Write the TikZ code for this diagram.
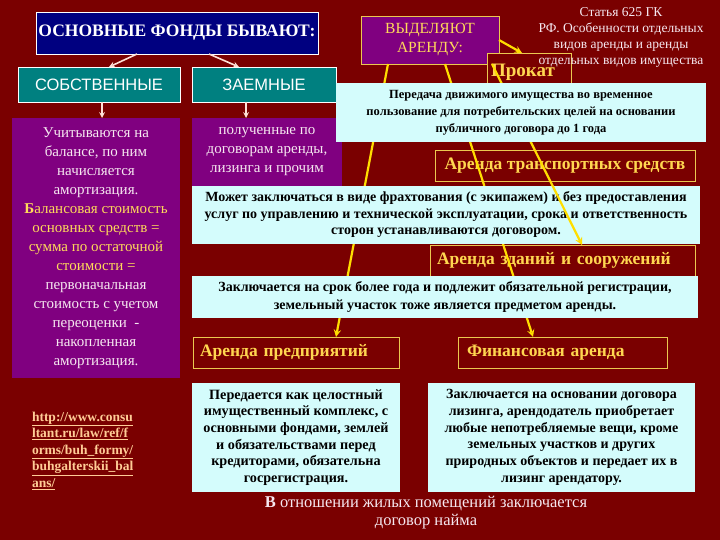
\documentclass[tikz,border=0pt]{standalone}
\usepackage{fontspec}
\setmainfont{Liberation Serif}
\setsansfont{Liberation Sans}
\usepackage{tikz}
\usetikzlibrary{arrows,shapes,positioning}
\usepackage{xcolor}
\definecolor{bgmaroon}{RGB}{122,0,0}
\definecolor{titlenavy}{RGB}{0,0,128}
\definecolor{fundteal}{RGB}{0,128,128}
\definecolor{notepurple}{RGB}{128,0,128}
\definecolor{notecyan}{RGB}{212,252,252}
\definecolor{framegold}{RGB}{235,200,80}
\definecolor{labelgold}{RGB}{255,215,80}
\definecolor{softyellow}{RGB}{255,218,90}
\definecolor{paletext}{RGB}{246,232,240}
\definecolor{pinkarrow}{RGB}{255,225,215}
\definecolor{lineyellow}{RGB}{255,222,0}
\definecolor{linkpeach}{RGB}{255,204,150}
\tikzstyle{plate} = [rectangle, anchor=north west, inner sep=0pt, outer sep=0pt, align=center]
\tikzstyle{fundbox} = [plate, draw=white, fill=fundteal, text=white, minimum height=35pt, font=\sffamily\fontsize{16.5}{19}\selectfont]
\tikzstyle{notebox} = [plate, fill=notepurple, text=paletext, font=\fontsize{15}{19}\selectfont]
\tikzstyle{rentbox} = [plate, draw=framegold, line width=0.8pt, fill=bgmaroon, text=labelgold, minimum height=31pt, font=\bfseries\fontsize{17.5}{20}\selectfont]
\tikzstyle{infobox} = [plate, fill=notecyan, text=black, font=\bfseries\fontsize{13}{17}\selectfont]
\tikzstyle{pinkarrow} = [line width=1.6pt, ->, >=stealth, color=pinkarrow]
\tikzstyle{yline} = [line width=2.2pt, ->, >=stealth, color=lineyellow]

\begin{document}
\begin{tikzpicture}[x=1pt, y=-1pt]
\useasboundingbox (0,0) rectangle (720,540);
\fill[bgmaroon] (0,0) rectangle (720,540);

% Fixed assets
\node[plate, draw=white, fill=titlenavy, text=white, minimum width=282pt, minimum height=42pt, font=\bfseries\fontsize{17.5}{20}\selectfont] (funds) at (36,12) {ОСНОВНЫЕ ФОНДЫ БЫВАЮТ:};
\node[fundbox, minimum width=162pt] (own) at (18,67) {СОБСТВЕННЫЕ};
\node[fundbox, minimum width=144pt] (borrowed) at (192,67) {ЗАЕМНЫЕ};

\node[notebox, minimum width=168pt, minimum height=260pt] (ownnote) at (12,118) {Учитываются на\\ балансе, по ним\\ начисляется\\ амортизация.\\ \textcolor{softyellow}{\textbf{Б}алансовая стоимость}\\ \textcolor{softyellow}{основных средств =}\\ \textcolor{softyellow}{сумма по остаточной}\\ \textcolor{softyellow}{стоимости =}\\ первоначальная\\ стоимость с учетом\\ переоценки \ -\\ накопленная\\ амортизация.};
\node[notebox, minimum width=150pt, minimum height=68pt] (borrownote) at (192,118) {полученные по\\ договорам аренды,\\ лизинга и прочим};

\draw[pinkarrow] ([xshift=101pt]funds.south west) -- ([xshift=10pt]own.north);
\draw[pinkarrow] ([xshift=173pt]funds.south west) -- ([xshift=-25pt]borrowed.north);
\draw[pinkarrow] ([xshift=3pt]own.south) -- ([xshift=3pt]own.south |- ownnote.north);
\draw[pinkarrow] ([xshift=-18pt]borrowed.south) -- ([xshift=-18pt]borrowed.south |- borrownote.north);

% Rent types
\node[plate, draw=framegold, line width=0.8pt, fill=notepurple, text=softyellow, minimum width=138pt, minimum height=48pt, font=\fontsize{15.5}{19}\selectfont] (rent) at (361,16) {ВЫДЕЛЯЮТ\\ АРЕНДУ:};
\node[rentbox, minimum width=81pt, minimum height=30pt, text width=76pt, text height=18pt, text depth=0pt, align=left, inner xsep=4pt, font=\bfseries\fontsize{19}{20}\selectfont] (hire) at (487,53) {Прокат};
\node[plate, text=paletext, anchor=north, font=\fontsize{13.5}{16}\selectfont] (article) at (621,8) {Статья 625 ГК\\ РФ. Особенности отдельных\\ видов аренды и аренды\\ отдельных видов имущества};

\node[rentbox, minimum width=260pt] (transport) at (435,150) {Аренда транспортных средств};
\node[rentbox, minimum width=265pt, text width=251pt, inner xsep=7pt, align=left] (building) at (430,245) {Аренда зданий и сооружений};
\node[rentbox, minimum width=206pt, text width=192pt, inner xsep=7pt, align=left] (enterprise) at (193,337) {Аренда предприятий};
\node[rentbox, minimum width=209pt, text width=191pt, inner xsep=9pt, align=left] (finance) at (458,337) {Финансовая аренда};

\draw[yline] (rent.east) -- ([xshift=35pt]hire.north west);
\draw[yline] ([xshift=27pt]rent.south west) -- ([xshift=143pt]enterprise.north west);
\draw[yline] ([xshift=84pt]rent.south west) -- ([xshift=75pt]finance.north west);

\node[infobox, minimum width=508pt, minimum height=58pt, font=\bfseries\fontsize{14}{16.5}\selectfont] (charter) at (192,186) {Может заключаться в виде фрахтования (с экипажем) и без предоставления\\ услуг по управлению и технической эксплуатации, срока и ответственность\\ сторон устанавливаются договором.};

\draw[yline] ([xshift=131pt]rent.south west) -- ([xshift=152pt]building.north west);

\node[infobox, minimum width=370pt, minimum height=59pt, font=\bfseries\fontsize{12.5}{17}\selectfont] (consumer) at (336,83) {Передача движимого имущества во временное\\ пользование для потребительских целей на основании\\ публичного договора до 1 года};
\node[infobox, minimum width=506pt, minimum height=42pt, font=\bfseries\fontsize{14}{18}\selectfont] (register) at (192,276) {Заключается на срок более года и подлежит обязательной регистрации,\\ земельный участок тоже является предметом аренды.};
\node[infobox, minimum width=208pt, minimum height=109pt, font=\bfseries\fontsize{14.2}{16.7}\selectfont] (complex) at (192,383) {Передается как целостный\\ имущественный комплекс, с\\ основными фондами, землей\\ и обязательствами перед\\ кредиторами, обязательна\\ госрегистрация.};
\node[infobox, minimum width=267pt, minimum height=109pt, font=\bfseries\fontsize{14}{16.7}\selectfont] (leasing) at (428,383) {Заключается на основании договора\\ лизинга, арендодатель приобретает\\ любые непотребляемые вещи, кроме\\ земельных участков и других\\ природных объектов и передает их в\\ лизинг арендатору.};

% Notes below
\node[plate, anchor=north, text=paletext, font=\fontsize{16.5}{18}\selectfont] (housing) at (426,496) {\textbf{В} отношении жилых помещений заключается\\ договор найма};
\node[plate, text=linkpeach, align=left, font=\bfseries\fontsize{13.5}{16.5}\selectfont] (link) at (32,412) {\underline{http://www.consu}\\ \underline{ltant.ru/law/ref/f}\\ \underline{orms/buh\_formy/}\\ \underline{buhgalterskii\_bal}\\ \underline{ans/}};
\end{tikzpicture}
\end{document}
